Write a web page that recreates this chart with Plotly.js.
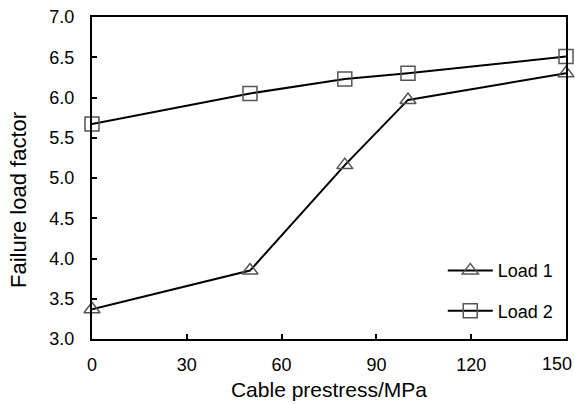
<!DOCTYPE html>
<html>
<head>
<meta charset="utf-8">
<script src="https://cdn.plot.ly/plotly-3.0.1.min.js"></script>
<style>
html,body{margin:0;padding:0;background:#fff;}
#chart{width:575px;height:404px;}
</style>
</head>
<body>
<div id="chart"></div>
<script>
const prestress = [0, 50, 80, 100, 150];
const load1 = [3.37, 3.85, 5.16, 5.97, 6.30];
const load2 = [5.67, 6.05, 6.23, 6.30, 6.51];
const seriesNames = ['Load 1', 'Load 2'];
const xTicks = [0, 30, 60, 90, 120, 150];
const yTicks = [3.0, 3.5, 4.0, 4.5, 5.0, 5.5, 6.0, 6.5, 7.0];
const xTitle = 'Cable prestress/MPa';
const yTitle = 'Failure load factor';

const font = 'Liberation Sans, Arial, sans-serif';

function trace(y, name, symbol, grp) {
  return {
    x: prestress, y: y, name: name, legendgroup: grp,
    type: 'scatter', mode: 'lines+markers', cliponaxis: false,
    line: {color: '#000', width: 2},
    marker: {symbol: symbol, size: 14, color: '#555', line: {color: '#555', width: 1.5}}
  };
}

const data = [
  trace(load1, seriesNames[0], 'triangle-up-open', 'g1'),
  trace(load2, seriesNames[1], 'square-open', 'g2')
];

const axisCommon = {
  showline: true, linecolor: '#000', linewidth: 2, mirror: true,
  ticks: 'inside', ticklen: 5, tickwidth: 2, tickcolor: '#000',
  showgrid: false, zeroline: false,
  tickfont: {family: font, size: 18, color: '#000'}
};

const lastX = xTicks[xTicks.length - 1];
// the last label is nudged left (as in the reference) so it stays inside the figure
const xText = xTicks.map(v => v === lastX ? '' : String(v));

const layout = {
  width: 575, height: 404,
  margin: {l: 92, r: 9, t: 17, b: 65},
  paper_bgcolor: '#fff', plot_bgcolor: '#fff',
  font: {family: font, color: '#000'},
  xaxis: Object.assign({}, axisCommon, {
    range: [0, 150], tickvals: xTicks, ticktext: xText,
    ticklabelstandoff: 8,
    title: {text: xTitle, font: {family: font, size: 21, color: '#000'}, standoff: 9}
  }),
  yaxis: Object.assign({}, axisCommon, {
    range: [3, 7], tickvals: yTicks, ticktext: yTicks.map(v => v.toFixed(1)),
    ticklabelstandoff: 12
  }),
  annotations: [{
    text: yTitle, textangle: -90, showarrow: false,
    xref: 'paper', yref: 'paper', x: (18 - 92) / 474, y: (339 - 200) / 322,
    xanchor: 'center', yanchor: 'middle',
    font: {family: font, size: 22, color: '#000'}
  }, {
    text: String(lastX), showarrow: false,
    xref: 'x', yref: 'paper', x: lastX, y: 0,
    xanchor: 'center', yanchor: 'top', xshift: -9, yshift: -13,
    font: {family: font, size: 18, color: '#000'}
  }],
  showlegend: true,
  legend: {
    x: 0.74, y: 0.15, xanchor: 'left', yanchor: 'middle',
    bgcolor: 'rgba(0,0,0,0)', borderwidth: 0,
    font: {family: font, size: 18, color: '#000'},
    traceorder: 'grouped', tracegroupgap: 14, itemwidth: 45
  }
};

Plotly.newPlot('chart', data, layout, {displayModeBar: false, staticPlot: true});
</script>
</body>
</html>
